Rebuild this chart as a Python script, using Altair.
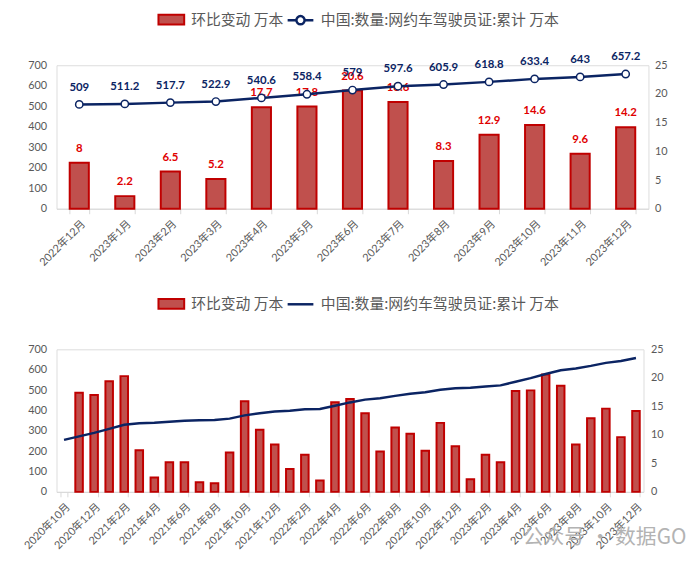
import altair as alt
import pandas as pd

NUM_FONT = "Lato, 'Noto Sans CJK SC', sans-serif"
CJK_FONT = "'Noto Sans CJK SC', sans-serif"
GRAY = "#595959"
AXIS_LINE = "#D9D9D9"
NAVY = "#0B2463"
BAR_FILL = "#C0504D"
BAR_STROKE = "#C00000"
LABEL_RED = "#E00000"

BAR_NAME = "环比变动 万本"
LINE_NAME = "中国:数量:网约车驾驶员证:累计 万本"
WATERMARK = "公众号 · 数据GO"

# ---- top panel data ----
top_months = ["2022年12月", "2023年1月", "2023年2月", "2023年3月", "2023年4月", "2023年5月",
              "2023年6月", "2023年7月", "2023年8月", "2023年9月", "2023年10月", "2023年11月",
              "2023年12月"]
top_change = [8, 2.2, 6.5, 5.2, 17.7, 17.8, 20.6, 18.6, 8.3, 12.9, 14.6, 9.6, 14.2]
top_cum = [509, 511.2, 517.7, 522.9, 540.6, 558.4, 579, 597.6, 605.9, 618.8, 633.4, 643, 657.2]

# ---- bottom panel data ----
bottom_months = ["2020年10月", "2020年11月", "2020年12月",
                 "2021年1月", "2021年2月", "2021年3月", "2021年4月", "2021年5月", "2021年6月",
                 "2021年7月", "2021年8月", "2021年9月", "2021年10月", "2021年11月", "2021年12月",
                 "2022年1月", "2022年2月", "2022年3月", "2022年4月", "2022年5月", "2022年6月",
                 "2022年7月", "2022年8月", "2022年9月", "2022年10月", "2022年11月", "2022年12月",
                 "2023年1月", "2023年2月", "2023年3月", "2023年4月", "2023年5月", "2023年6月",
                 "2023年7月", "2023年8月", "2023年9月", "2023年10月", "2023年11月", "2023年12月"]
bottom_change = [None, 17.4, 17.0,
                 19.4, 20.3, 7.3, 2.5, 5.2, 5.2, 1.7, 1.5, 6.9, 15.9, 10.9, 8.3,
                 4.0, 6.5, 2.0, 15.7, 16.3, 13.8, 7.1, 11.3, 10.2, 7.2, 12.1, 8,
                 2.2, 6.5, 5.2, 17.7, 17.8, 20.6, 18.6, 8.3, 12.9, 14.6, 9.6, 14.2]
bottom_cum = [255.3, 272.7, 289.7,
              309.1, 329.4, 336.7, 339.2, 344.4, 349.6, 351.3, 352.8, 359.7, 375.6, 386.5, 394.8,
              398.8, 405.3, 407.3, 423.0, 439.3, 453.1, 460.2, 471.5, 481.7, 488.9, 501.0, 509,
              511.2, 517.7, 522.9, 540.6, 558.4, 579, 597.6, 605.9, 618.8, 633.4, 643, 657.2]
bottom_tick_months = ["2020年10月", "2020年12月", "2021年2月", "2021年4月", "2021年6月", "2021年8月",
                      "2021年10月", "2021年12月", "2022年2月", "2022年4月", "2022年6月", "2022年8月",
                      "2022年10月", "2022年12月", "2023年2月", "2023年4月", "2023年6月", "2023年8月",
                      "2023年10月", "2023年12月"]

left_ticks = [0, 100, 200, 300, 400, 500, 600, 700]
right_ticks = [0, 5, 10, 15, 20, 25]

RECT_PATH = "M-1,-0.38L1,-0.38L1,0.38L-1,0.38Z"
LINE_DOT_PATH = "M-1,0L-0.32,0M0.32,0L1,0M-0.32,0A0.32,0.32,0,1,1,0.32,0A0.32,0.32,0,1,1,-0.32,0"
LINE_PATH = "M-1,0L1,0"


def panel(months, change, cum, width, height, pad_inner, tick_values, with_labels,
          line_symbol, bar_legend_x, line_legend_x, right_pad, watermark=None):
    df = pd.DataFrame({"month": months, "change": change, "cum": cum,
                       "s_bar": BAR_NAME, "s_line": LINE_NAME})
    base = alt.Chart(df)
    x = alt.X("month:N", sort=months, title=None,
              scale=alt.Scale(paddingInner=pad_inner, paddingOuter=pad_inner / 2),
              axis=alt.Axis(values=tick_values, labelAngle=-45, tickBand="extent",
                            domainColor=AXIS_LINE, tickColor=AXIS_LINE, tickSize=5,
                            labelColor=GRAY, labelFont=NUM_FONT, labelFontSize=11,
                            labelPadding=4, grid=False))
    y_right = alt.Y("change:Q", title=None, scale=alt.Scale(domain=[0, 25], nice=False),
                    axis=alt.Axis(orient="right", values=right_ticks, domain=False, ticks=False,
                                  grid=False, labelPadding=right_pad, labelColor=GRAY,
                                  labelFont=NUM_FONT, labelFontSize=11))
    y_left = alt.Y("cum:Q", title=None, scale=alt.Scale(domain=[0, 700], nice=False),
                   axis=alt.Axis(orient="left", values=left_ticks, domain=False, ticks=False,
                                 grid=False, labelPadding=10, labelColor=GRAY,
                                 labelFont=NUM_FONT, labelFontSize=11))

    bars = base.mark_bar(stroke=BAR_STROKE, strokeWidth=2).encode(
        x=x, y=y_right,
        fill=alt.Fill("s_bar:N", scale=alt.Scale(domain=[BAR_NAME], range=[BAR_FILL]),
                      legend=alt.Legend(title=None, orient="none", legendX=bar_legend_x,
                                        legendY=-60, symbolType=RECT_PATH, symbolSize=676,
                                        symbolStrokeColor=BAR_STROKE, symbolStrokeWidth=2,
                                        labelFont=CJK_FONT, labelFontSize=15, labelColor=GRAY,
                                        labelOffset=6, labelLimit=400, padding=0)))
    bar_layers = [bars]
    line = base.mark_line(strokeWidth=2.5).encode(
        x=x, y=y_left,
        stroke=alt.Stroke("s_line:N", scale=alt.Scale(domain=[LINE_NAME], range=[NAVY]),
                          legend=alt.Legend(title=None, orient="none", legendX=line_legend_x,
                                            legendY=-60, symbolType=line_symbol, symbolSize=676,
                                            symbolStrokeWidth=2.5, symbolFillColor="white",
                                            labelFont=CJK_FONT, labelFontSize=15,
                                            labelColor=GRAY, labelOffset=6, labelLimit=400,
                                            padding=0)))
    line_layers = [line]
    if with_labels:
        bar_labels = base.mark_text(dy=-14, color=LABEL_RED, fontWeight="bold", fontSize=11.5,
                                    font=NUM_FONT).encode(
            x=x, y=y_right, text=alt.Text("change:Q", format="~f"))
        bar_layers.append(bar_labels)
        points = base.mark_point(shape="circle", size=55, filled=True, fill="white",
                                 stroke=NAVY, strokeWidth=1.5, opacity=1).encode(x=x, y=y_left)
        line_labels = base.mark_text(dy=-17, color=NAVY, fontWeight="bold", fontSize=11.5,
                                     font=NUM_FONT).encode(
            x=x, y=y_left, text=alt.Text("cum:Q", format="~f"))
        line_layers += [points, line_labels]
    layers = [alt.layer(*bar_layers), alt.layer(*line_layers)]
    if watermark is not None:
        wm = alt.Chart(pd.DataFrame({"t": [WATERMARK]})).mark_text(
            align="left", baseline="middle", fontSize=21, color="#B3B3B3", font=CJK_FONT
        ).encode(x=alt.value(watermark[0]), y=alt.value(watermark[1]), text="t:N")
        layers.append(wm)
    return alt.layer(*layers).resolve_scale(y="independent").properties(width=width, height=height)


top = panel(top_months, top_change, top_cum, 598, 145, 0.58, top_months, True,
            LINE_DOT_PATH, 102, 232, 6)
bottom = panel(bottom_months, bottom_change, bottom_cum, 593, 144, 0.5, bottom_tick_months, False,
               LINE_PATH, 102, 232, 7, watermark=(471, 191))

chart = alt.vconcat(top, bottom, spacing=21).resolve_scale(
    x="independent", y="independent", fill="independent", stroke="independent"
).properties(
    padding={"left": 13, "top": -6, "right": 5, "bottom": 5}
).configure_view(stroke=None).configure(background="white")

chart.save("out.html", embed_options={"renderer": "svg", "actions": False})
